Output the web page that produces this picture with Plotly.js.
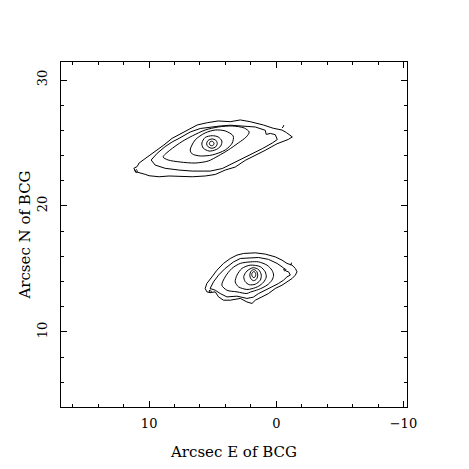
<!DOCTYPE html>
<html>
<head>
<meta charset="utf-8">
<script src="https://cdn.plot.ly/plotly-3.0.1.min.js"></script>
<style>
  body { margin: 0; background: white; }
  #plot { width: 469px; height: 469px; }
</style>
</head>
<body>
<div id="plot"></div>
<script>
// contour outlines, arcsec E / N of the BCG

// upper galaxy, inner to outer
let u1x = [4.90, 4.95, 5.08, 5.21, 5.26, 5.21, 5.08, 4.95, 4.90];
let u1y = [24.96, 25.09, 25.14, 25.09, 24.96, 24.83, 24.78, 24.83, 24.96];

let u2x = [4.64, 4.76, 5.06, 5.36, 5.48, 5.36, 5.06, 4.76, 4.64];
let u2y = [24.97, 25.22, 25.32, 25.20, 24.93, 24.70, 24.58, 24.70, 24.97];

let u3x = [4.28, 4.57, 5.04, 5.59, 5.85, 5.75, 5.28, 4.72, 4.37, 4.28];
let u3y = [25.16, 25.48, 25.58, 25.44, 25.00, 24.60, 24.36, 24.48, 24.76, 25.16];

let u4x = [6.77, 6.38, 5.59, 4.80, 4.02, 3.39, 3.46, 4.02, 5.04, 5.98, 6.61, 6.77];
let u4y = [24.44, 25.24, 25.80, 26.03, 25.96, 25.56, 25.00, 24.44, 24.05, 23.97, 24.13, 24.44];

let u5x = [8.90, 8.35, 7.40, 6.61, 5.59, 4.57, 3.46, 2.52, 2.13, 2.36, 2.99, 3.78, 4.57, 5.35, 6.38, 7.56, 8.50, 8.90];
let u5y = [23.89, 24.44, 25.12, 25.56, 26.03, 26.27, 26.35, 26.19, 25.87, 25.48, 25.00, 24.44, 23.97, 23.57, 23.41, 23.49, 23.65, 23.89];

let u6x = [9.84, 9.37, 8.74, 8.19, 7.64, 6.77, 5.98, 5.20, 4.41, 3.62, 2.44, 1.65, 0.87, 0.79, 0.47, 0.08, -0.08, 0.31,
           1.10, 1.89, 2.68, 3.46, 4.25, 5.20, 6.61, 7.64, 8.74, 9.53, 9.84];
let u6y = [23.65, 24.18, 24.71, 25.08, 25.37, 25.87, 26.15, 26.27, 26.35, 26.41, 26.35, 26.27, 26.01, 25.68, 25.76, 25.66, 25.27, 25.00,
           24.55, 24.15, 23.75, 23.33, 22.97, 22.77, 22.77, 22.85, 22.99, 23.25, 23.65];

let u7x = [11.20, 10.94, 10.79, 10.47, 10.00, 9.53, 8.84, 8.19, 7.40, 6.61, 6.22, 5.43, 4.57, 3.62, 2.83, 2.05, 1.02, 0.24,
           -0.45, -0.79, -1.26, -0.94, -0.47, -0.06, 0.87, 1.65, 2.44, 3.23, 4.02, 4.80, 5.59, 6.61, 7.64, 8.43, 9.21,
           10.00, 10.31, 10.71, 11.06, 11.20];
let u7y = [22.99, 23.13, 23.41, 23.65, 23.93, 24.31, 24.84, 25.37, 25.77, 26.17, 26.43, 26.61, 26.75, 26.69, 26.83, 26.69, 26.43, 26.17,
           26.03, 25.83, 25.48, 25.28, 25.08, 24.94, 24.42, 24.02, 23.62, 23.09, 22.85, 22.50, 22.38, 22.32, 22.38, 22.38, 22.32,
           22.40, 22.51, 22.65, 22.72, 22.99];

// lower galaxy, inner to outer
let l1x = [1.61, 1.66, 1.77, 1.88, 1.93, 1.88, 1.77, 1.66, 1.61];
let l1y = [14.55, 14.72, 14.79, 14.72, 14.55, 14.38, 14.31, 14.38, 14.55];

let l2x = [2.08, 1.99, 1.77, 1.55, 1.46, 1.55, 1.77, 1.99, 2.08];
let l2y = [14.51, 14.82, 14.95, 14.82, 14.51, 14.20, 14.07, 14.20, 14.51];

let l3x = [2.56, 2.31, 1.81, 1.38, 1.18, 1.26, 1.65, 2.13, 2.44, 2.56];
let l3y = [14.39, 14.83, 15.10, 14.94, 14.51, 14.11, 13.79, 13.75, 13.99, 14.39];

let l4x = [3.23, 3.09, 2.70, 2.05, 1.26, 0.87, 0.79, 1.00, 1.39, 1.91, 2.31, 2.97, 3.23];
let l4y = [13.97, 14.51, 15.04, 15.30, 15.18, 14.77, 14.35, 13.95, 13.63, 13.43, 13.37, 13.58, 13.97];

let l5x = [4.28, 4.02, 3.49, 2.83, 2.05, 1.39, 0.73, 0.34, 0.21, 0.34, 0.73, 1.39, 2.05, 2.31, 3.09, 3.88, 4.28];
let l5y = [13.71, 14.37, 15.04, 15.44, 15.56, 15.56, 15.30, 14.90, 14.51, 14.11, 13.71, 13.37, 13.16, 13.05, 13.18, 13.31, 13.71];

let l6x = [5.20, 4.94, 4.54, 4.02, 3.36, 2.83, 2.31, 1.39, 0.61, -0.06, -0.45, -0.63, -0.75, -0.97, -1.10, -0.84, -0.57,
           -0.18, 0.34, 0.87, 1.39, 1.81, 2.31, 3.09, 3.88, 4.41, 4.80, 5.20];
let l6y = [13.45, 13.97, 14.51, 15.04, 15.56, 15.83, 15.86, 15.91, 15.76, 15.44, 15.17, 15.02, 14.84, 14.77, 14.51, 14.37, 14.11,
           13.85, 13.58, 13.31, 13.05, 12.76, 12.66, 12.84, 12.78, 13.05, 13.31, 13.45];

let l7x = [5.59, 5.46, 5.06, 4.67, 4.15, 3.62, 3.09, 2.57, 1.65, 0.87, 0.08, -0.45, -0.84, -1.24, -1.50, -1.63, -1.50,
           -1.24, -0.84, -0.45, 0.08, 0.61, 1.13, 1.65, 1.91, 2.31, 2.83, 3.62, 4.15, 4.54, 4.80, 5.20, 5.46, 5.59];
let l7y = [13.45, 13.85, 14.37, 14.90, 15.44, 15.83, 16.10, 16.23, 16.28, 16.18, 15.96, 15.70, 15.44, 15.30, 15.04, 14.77, 14.51,
           14.24, 13.97, 13.71, 13.45, 13.05, 12.78, 12.52, 12.26, 12.38, 12.66, 12.52, 12.52, 12.78, 13.18, 13.12, 13.18, 13.45];

// little isolated contour bits at the faint edges
let b1x = [11.14, 11.02, 10.90, 11.02, 11.14];
let b1y = [22.77, 22.89, 22.77, 22.65, 22.77];
let b2x = [-0.47, -0.55, -0.59, -0.53];
let b2y = [26.19, 26.27, 26.37, 26.43];
let b3x = [-0.57, -0.67, -0.77, -0.67, -0.57];
let b3y = [14.94, 15.04, 14.94, 14.84, 14.94];
let b4x = [5.30, 5.20, 5.10, 5.20, 5.30];
let b4y = [13.24, 13.34, 13.24, 13.14, 13.24];
let b5x = [-1.14, -1.20];
let b5y = [15.30, 15.50];

let contours = [
  [u1x, u1y, "spline"], [u2x, u2y, "spline"], [u3x, u3y, "spline"], [u4x, u4y, "spline"],
  [u5x, u5y, "spline"], [u6x, u6y, "linear"], [u7x, u7y, "linear"],
  [l1x, l1y, "spline"], [l2x, l2y, "spline"], [l3x, l3y, "spline"], [l4x, l4y, "spline"],
  [l5x, l5y, "spline"], [l6x, l6y, "linear"], [l7x, l7y, "linear"],
  [b1x, b1y, "linear"], [b2x, b2y, "linear"], [b3x, b3y, "linear"], [b4x, b4y, "linear"], [b5x, b5y, "linear"]
];

let data = contours.map(c => ({
  x: c[0],
  y: c[1],
  type: "scatter",
  mode: "lines",
  line: {color: "black", width: 1, shape: c[2], smoothing: 0.8},
  hoverinfo: "skip"
}));

let axisCommon = {
  showline: true,
  linecolor: "black",
  linewidth: 1,
  mirror: "ticks",
  ticks: "inside",
  ticklen: 6,
  tickwidth: 1,
  tickcolor: "black",
  dtick: 10,
  tick0: 0,
  showgrid: false,
  zeroline: false,
  minor: {dtick: 2, ticks: "inside", ticklen: 3, tickwidth: 1, tickcolor: "black", showgrid: false},
  tickfont: {family: "DejaVu Serif", size: 13, color: "black"}
};

let layout = {
  width: 469,
  height: 469,
  margin: {l: 61, r: 62, t: 62, b: 62},
  showlegend: false,
  paper_bgcolor: "white",
  plot_bgcolor: "white",
  font: {family: "DejaVu Serif", size: 14, color: "black"},
  xaxis: Object.assign({}, axisCommon, {
    range: [16.93, -10.28],
    ticklabelstandoff: 4,
    title: {text: "Arcsec E of BCG", standoff: 16, font: {family: "DejaVu Serif", size: 15}}
  }),
  yaxis: Object.assign({}, axisCommon, {
    range: [4.04, 31.43],
    tickangle: -90,
    ticklabelstandoff: 8,
    title: {text: "Arcsec N of BCG", standoff: 0, font: {family: "DejaVu Serif", size: 15}}
  })
};

Plotly.newPlot("plot", data, layout, {displayModeBar: false, staticPlot: true});
</script>
</body>
</html>
